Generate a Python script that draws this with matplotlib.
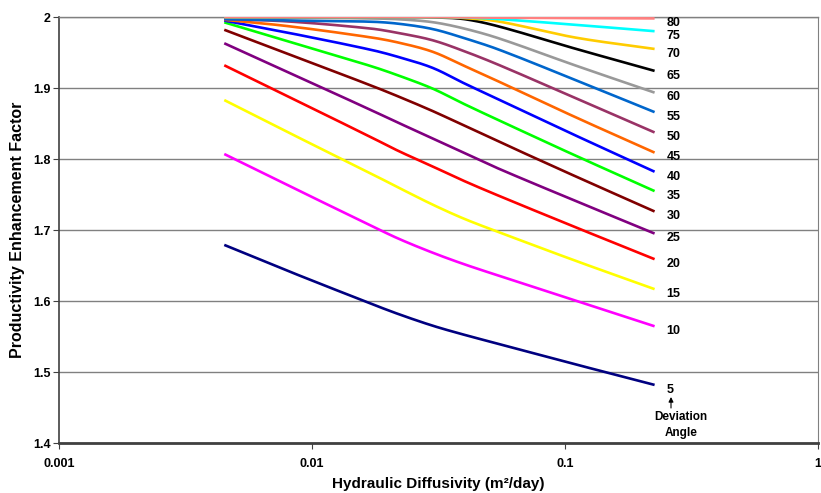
import numpy as np
import matplotlib
matplotlib.use("Agg")
import matplotlib.pyplot as plt
from matplotlib.ticker import FixedLocator, FixedFormatter, NullLocator

# ---- data ----
diffusivity = [0.0045, 0.008, 0.017, 0.022, 0.03, 0.04, 0.055, 0.11, 0.226]
angles = [80, 75, 70, 65, 60, 55, 50, 45, 40, 35, 30, 25, 20, 15, 10, 5]

pef_80 = [2.000, 2.000, 2.000, 2.000, 2.000, 1.9995, 1.999, 1.9985, 1.998]
pef_75 = [2.000, 2.000, 2.000, 2.000, 2.000, 1.9995, 1.997, 1.989, 1.980]
pef_70 = [2.000, 2.000, 2.000, 2.000, 2.000, 1.9985, 1.9935, 1.971, 1.955]
pef_65 = [2.000, 2.000, 2.000, 2.000, 1.9995, 1.997, 1.9865, 1.9553, 1.9241]
pef_60 = [1.999, 1.999, 1.998, 1.9968, 1.9927, 1.9837, 1.9697, 1.9317, 1.8935]
pef_55 = [1.997, 1.9951, 1.9934, 1.9905, 1.983, 1.9702, 1.9538, 1.9112, 1.866]
pef_50 = [1.997, 1.9938, 1.9838, 1.9774, 1.9672, 1.9518, 1.9322, 1.8858, 1.8374]
pef_45 = [1.996, 1.9872, 1.9714, 1.9639, 1.951, 1.9311, 1.9087, 1.8589, 1.809]
pef_40 = [1.995, 1.978, 1.954, 1.9436, 1.9283, 1.9065, 1.8834, 1.8332, 1.7821]
pef_35 = [1.9925, 1.966, 1.9311, 1.9175, 1.8991, 1.8773, 1.8542, 1.8048, 1.7548]
pef_30 = [1.982, 1.9483, 1.9039, 1.8879, 1.8675, 1.847, 1.8242, 1.7756, 1.7261]
pef_25 = [1.963, 1.9226, 1.8694, 1.8508, 1.829, 1.8085, 1.786, 1.741, 1.695]
pef_20 = [1.932, 1.8885, 1.8312, 1.8112, 1.7894, 1.7689, 1.7479, 1.7039, 1.6589]
pef_15 = [1.883, 1.838, 1.780, 1.7596, 1.7357, 1.7157, 1.6967, 1.6567, 1.6167]
pef_10 = [1.807, 1.7633, 1.7066, 1.6877, 1.668, 1.6517, 1.6354, 1.6004, 1.5644]
pef_5 = [1.679, 1.6426, 1.5966, 1.5815, 1.5652, 1.5524, 1.5393, 1.5108, 1.4818]

series = [pef_80, pef_75, pef_70, pef_65, pef_60, pef_55, pef_50, pef_45,
          pef_40, pef_35, pef_30, pef_25, pef_20, pef_15, pef_10, pef_5]

colors = ["#FF8080", "#00FFFF", "#FFCC00", "#000000", "#999999", "#0066CC",
          "#993366", "#FF6600", "#0000FF", "#00FF00", "#800000", "#800080",
          "#FF0000", "#FFFF00", "#FF00FF", "#000080"]

x_ticks = [0.001, 0.01, 0.1, 1]
x_ticklabels = ["0.001", "0.01", "0.1", "1"]
y_ticks = [1.4, 1.5, 1.6, 1.7, 1.8, 1.9, 2.0]
y_ticklabels = ["1.4", "1.5", "1.6", "1.7", "1.8", "1.9", "2"]


def smooth(xs, ys, n=24):
    """Cubic Hermite smoothing in log-x space (finite-difference tangents)."""
    lx = np.log10(np.asarray(xs, float))
    yy = np.asarray(ys, float)
    k = len(lx)
    m = np.zeros(k)
    for i in range(k):
        if i == 0:
            m[i] = (yy[1] - yy[0]) / (lx[1] - lx[0])
        elif i == k - 1:
            m[i] = (yy[-1] - yy[-2]) / (lx[-1] - lx[-2])
        else:
            m[i] = (yy[i + 1] - yy[i - 1]) / (lx[i + 1] - lx[i - 1])
    for i in range(k - 1):
        if yy[i] == yy[i + 1]:
            m[i] = 0.0
            m[i + 1] = 0.0
    px, py = [], []
    for i in range(k - 1):
        h = lx[i + 1] - lx[i]
        t = np.linspace(0, 1, n, endpoint=False)
        h00 = 2 * t**3 - 3 * t**2 + 1
        h10 = t**3 - 2 * t**2 + t
        h01 = -2 * t**3 + 3 * t**2
        h11 = t**3 - t**2
        px.append(lx[i] + t * h)
        py.append(h00 * yy[i] + h10 * h * m[i] + h01 * yy[i + 1] + h11 * h * m[i + 1])
    px.append([lx[-1]])
    py.append([yy[-1]])
    px = np.concatenate(px)
    py = np.minimum(np.concatenate(py), 2.0)
    return 10 ** px, py


plt.rcParams['font.family'] = ['Liberation Sans', 'DejaVu Sans']
fig = plt.figure(figsize=(8.21, 4.93), dpi=100)
ax = fig.add_axes([59 / 821, 50 / 493, 759 / 821, 426 / 493])

for vals, c in zip(series[::-1], colors[::-1]):
    sx, sy = smooth(diffusivity, vals)
    ax.plot(sx, sy, color=c, lw=1.9, solid_capstyle='butt', zorder=3)

# angle labels at the right end of each curve
for ang, vals in zip(angles, series):
    ax.annotate(str(ang), xy=(diffusivity[-1], vals[-1]), xytext=(8.5, -3.5),
                textcoords='offset points', ha='left', va='center',
                fontsize=9, fontweight='bold', color='black')

# arrow pointing from "Deviation Angle" up to the "5" label
fig.add_artist(matplotlib.patches.FancyArrowPatch(
    (671 / 821, 1 - 408 / 493), (671 / 821, 1 - 397 / 493),
    transform=fig.transFigure, arrowstyle='-|>', mutation_scale=7,
    color='black', lw=0.8, shrinkA=0, shrinkB=0))
fig.text(681 / 821, 1 - 425 / 493, "Deviation\nAngle", ha='center', va='center',
         fontsize=8.5, fontweight='bold', linespacing=1.35)

ax.set_xscale('log')
ax.set_xlim(0.001, 1)
ax.set_ylim(1.4, 2.0)
ax.xaxis.set_major_locator(FixedLocator(x_ticks))
ax.xaxis.set_major_formatter(FixedFormatter(x_ticklabels))
ax.xaxis.set_minor_locator(NullLocator())
ax.yaxis.set_major_locator(FixedLocator(y_ticks))
ax.yaxis.set_major_formatter(FixedFormatter(y_ticklabels))

ax.yaxis.grid(True, color='#808080', lw=1.0, zorder=1)
ax.set_axisbelow(True)
for lab in ax.get_xticklabels() + ax.get_yticklabels():
    lab.set_fontweight('bold')
ax.tick_params(axis='both', labelsize=9, direction='out', length=4,
               width=0.8, color='#404040')
ax.tick_params(axis='x', pad=7)
ax.tick_params(axis='y', pad=2)

ax.spines['left'].set_color('#404040')
ax.spines['left'].set_linewidth(1.2)
ax.spines['bottom'].set_color('#404040')
ax.spines['bottom'].set_linewidth(2.0)
ax.spines['top'].set_color('#808080')
ax.spines['top'].set_linewidth(1.0)
ax.spines['right'].set_color('#808080')
ax.spines['right'].set_linewidth(0.8)

ax.set_xlabel("Hydraulic Diffusivity (m²/day)", fontsize=11, fontweight='bold',
              labelpad=5)
ax.set_ylabel("Productivity Enhancement Factor", fontsize=11.5, fontweight='bold',
              labelpad=6)

fig.savefig("out.png", dpi=100)
